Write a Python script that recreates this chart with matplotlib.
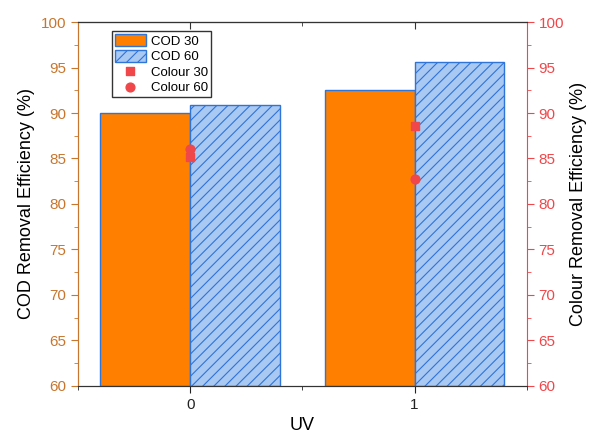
import matplotlib.pyplot as plt
import numpy as np
from matplotlib.ticker import MultipleLocator

plt.rcParams['font.family'] = ['Liberation Sans', 'DejaVu Sans']
plt.rcParams['hatch.color'] = '#2F74D8'
plt.rcParams['hatch.linewidth'] = 0.8

categories = [0, 1]
cod_30 = [90.0, 92.5]
cod_60 = [90.9, 95.6]
colour_30 = [85.2, 88.6]
colour_60 = [86.0, 82.7]

left_col = '#C8762E'
right_col = '#F0474A'
blue = '#2F74D8'

fig = plt.figure(figsize=(5.9, 4.41), dpi=100)
ax = fig.add_axes([0.132, 0.125, 0.761, 0.825])
ax2 = ax.twinx()

x = np.array(categories)
w = 0.4
b1 = ax.bar(x - w / 2, np.array(cod_30) - 60, w, bottom=60, color='#FF8000',
            edgecolor=blue, linewidth=1, label='COD 30')
b2 = ax.bar(x + w / 2, np.array(cod_60) - 60, w, bottom=60, color='#A9C8F2',
            edgecolor=blue, linewidth=1, hatch='///', label='COD 60')

s1 = ax2.scatter(x, colour_30, marker='s', s=40, color=right_col, zorder=5, label='Colour 30')
s2 = ax2.scatter(x, colour_60, marker='o', s=40, color=right_col, zorder=5, label='Colour 60')

ax.set_xlim(-0.5, 1.5)
ax.set_ylim(60, 100)
ax2.set_ylim(60, 100)
ax.set_xticks(categories)
ax.xaxis.set_minor_locator(MultipleLocator(0.5))
ax.yaxis.set_major_locator(MultipleLocator(5))
ax.yaxis.set_minor_locator(MultipleLocator(2.5))
ax2.yaxis.set_major_locator(MultipleLocator(5))
ax2.yaxis.set_minor_locator(MultipleLocator(2.5))

ax.tick_params(axis='x', which='both', direction='out', labelsize=11, colors='#222222')
ax.tick_params(axis='x', which='major', length=5)
ax.tick_params(axis='x', which='minor', length=3)
ax.tick_params(axis='y', which='both', colors=left_col, labelsize=11)
ax.tick_params(axis='y', which='major', length=5)
ax.tick_params(axis='y', which='minor', length=3)
ax2.tick_params(axis='y', which='both', colors=right_col, labelsize=11)
ax2.tick_params(axis='y', which='major', length=5)
ax2.tick_params(axis='y', which='minor', length=3)

# inward ticks on the top edge
top = ax.secondary_xaxis('top')
top.set_xticks(categories)
top.xaxis.set_minor_locator(MultipleLocator(0.5))
top.tick_params(axis='x', which='both', direction='in', labeltop=False, colors='#333333')
top.tick_params(axis='x', which='major', length=5)
top.tick_params(axis='x', which='minor', length=3)
top.spines['top'].set_color('#333333')

ax.spines['left'].set_color(left_col)
ax2.spines['left'].set_color(left_col)
ax2.spines['right'].set_color(right_col)
ax.spines['right'].set_visible(False)
for a in (ax, ax2):
    a.spines['top'].set_color('#333333')
    a.spines['bottom'].set_color('#333333')

ax.set_xlabel('UV', fontsize=13)
ax.set_ylabel('COD Removal Efficiency (%)', fontsize=13)
ax2.set_ylabel('Colour Removal Efficiency (%)', fontsize=13)

leg = ax2.legend([b1, b2, s1, s2], ['COD 30', 'COD 60', 'Colour 30', 'Colour 60'],
                 loc='upper left', bbox_to_anchor=(0.076, 0.975), borderaxespad=0,
                 fontsize=9.5, frameon=True, fancybox=False, edgecolor='black',
                 handlelength=2.3, handleheight=1.0, labelspacing=0.15,
                 borderpad=0.25, handletextpad=0.4)
leg.get_frame().set_linewidth(1)

fig.savefig('out.png', dpi=100)
